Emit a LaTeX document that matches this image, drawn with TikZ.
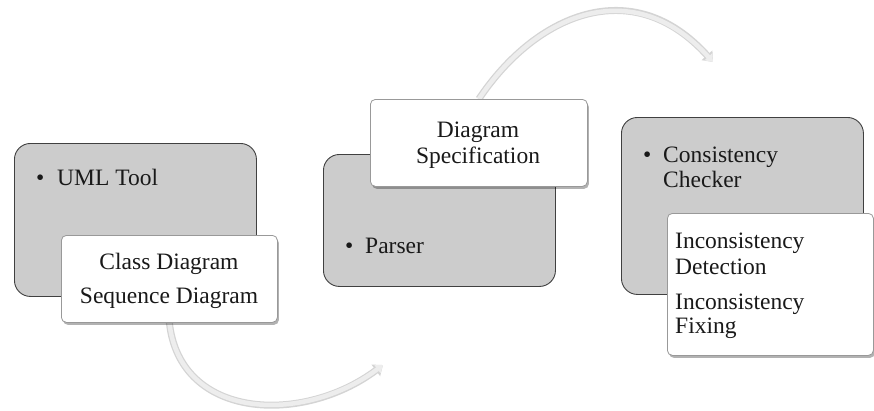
\documentclass[tikz,border=0pt]{standalone}
\usepackage{fontspec}
\setmainfont{Liberation Serif}
\usetikzlibrary{arrows.meta,shadows,backgrounds}
\tikzset{
  graybox/.style={draw=black!75, line width=0.9pt, fill=black!20, rounded corners=16pt, anchor=north west, inner sep=0pt},
  whitebox/.style={draw=black!40, line width=0.8pt, fill=white, rounded corners=5pt, anchor=north west, inner sep=0pt,
    drop shadow={shadow xshift=1.5pt, shadow yshift=-2.5pt, fill=black, opacity=0.3}},
  lbl/.style={font=\fontsize{23.5}{26}\selectfont, inner sep=0pt, text=black!90},
  arrowout/.style={line width=7pt, draw=black!17, -{Triangle[length=9pt,width=14pt]}},
  arrowin/.style={line width=4.5pt, draw=black!7, -{Triangle[length=7pt,width=10pt]}},
}
\begin{document}
\begin{tikzpicture}[x=1pt,y=-1pt]
\useasboundingbox (0,0) rectangle (874,410);

% gray boxes
\node[graybox, minimum width=242pt, minimum height=153pt] (g1) at (14,143) {};
\node[graybox, minimum width=232pt, minimum height=132pt] (g2) at (323,154) {};
\node[graybox, minimum width=242pt, minimum height=177pt] (g3) at (621,117) {};

% white boxes
\node[whitebox, minimum width=216pt, minimum height=87pt] (w1) at (61,235) {};
\node[whitebox, minimum width=217pt, minimum height=87pt] (w2) at (370,99) {};
\node[whitebox, minimum width=206pt, minimum height=142pt] (w3) at (667,213) {};

% arrows
\coordinate (e1) at (383,365);
\coordinate (e2) at (713,62);
\begin{scope}[on background layer]
\draw[arrowout] (w1.south) .. controls (180,420) and (303,425) .. (e1);
\draw[arrowin]  (w1.south) .. controls (180,420) and (303,425) .. (e1);
\draw[arrowout] (w2.north) .. controls (535,15) and (632,-28) .. (e2);
\draw[arrowin]  (w2.north) .. controls (535,15) and (632,-28) .. (e2);
\end{scope}

% texts in gray boxes
\node[lbl, anchor=base west] (b1) at (36,185) {•};
\node[lbl, anchor=base west] (t1) at (57,185) {UML Tool};
\node[lbl, anchor=base west] (b2) at (345,253) {•};
\node[lbl, anchor=base west] (t2) at (365,253) {Parser};
\node[lbl, anchor=base west] (b3) at (643,162) {•};
\node[lbl, anchor=base west] (t3a) at (663,162) {Consistency};
\node[lbl, anchor=base west] (t3b) at (663,187) {Checker};

% texts in white boxes
\node[lbl, anchor=base] (c1) at (169,269) {Class Diagram};
\node[lbl, anchor=base] (c2) at (169,303) {Sequence Diagram};
\node[lbl, anchor=base] (d1) at (478,137) {Diagram};
\node[lbl, anchor=base] (d2) at (478,163) {Specification};
\node[lbl, anchor=base west] (i1) at (675,248) {Inconsistency};
\node[lbl, anchor=base west] (i2) at (675,274) {Detection};
\node[lbl, anchor=base west] (i3) at (675,309) {Inconsistency};
\node[lbl, anchor=base west] (i4) at (675,333) {Fixing};
\end{tikzpicture}
\end{document}
